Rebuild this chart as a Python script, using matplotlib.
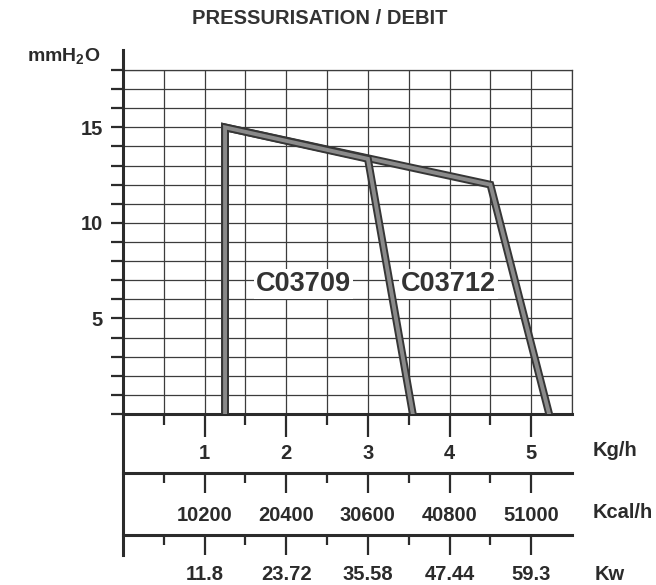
import matplotlib
matplotlib.use("Agg")
import matplotlib.pyplot as plt
import matplotlib.patheffects as pe
from matplotlib.lines import Line2D
from matplotlib.ticker import FixedLocator

plt.rcParams["font.family"] = ["Liberation Sans", "DejaVu Sans"]
plt.rcParams["font.weight"] = "bold"
plt.rcParams["mathtext.fontset"] = "custom"
plt.rcParams["mathtext.bf"] = "Liberation Sans:bold"
plt.rcParams["mathtext.rm"] = "Liberation Sans:bold"

# data (flow in kg/h, pressure in mmH2O)
c03709_x = [1.25, 1.25, 3.0, 3.55]
c03709_y = [0, 15, 13.35, 0]
c03712_x = [1.25, 1.25, 4.5, 5.22]
c03712_y = [0, 15, 12.0, 0]

kg_ticks = [1, 2, 3, 4, 5]
half_ticks = [0.5, 1.5, 2.5, 3.5, 4.5]
kg_labels = ["1", "2", "3", "4", "5"]
kcal_labels = ["10200", "20400", "30600", "40800", "51000"]
kw_labels = ["11.8", "23.72", "35.58", "47.44", "59.3"]
y_labeled = [5, 10, 15]

ink = "#2b2b2b"
W, H = 656, 585

fig = plt.figure(figsize=(6.56, 5.85), dpi=100)
ax = fig.add_axes([123 / W, 1 - 414 / H, (572 - 123) / W, (414 - 70) / H])
ax.set_xlim(0, 5.5)
ax.set_ylim(0, 18)

# grid
ax.xaxis.set_minor_locator(FixedLocator(half_ticks + [5.5]))
ax.grid(which="both", axis="x", color="#3c3c3c", lw=0.9)
ax.grid(which="major", axis="y", color="#3c3c3c", lw=0.9)
ax.set_axisbelow(True)

# curves
fx = [pe.Stroke(linewidth=5.6, foreground="#363636"), pe.Stroke(linewidth=2.8, foreground="#8a8a8a")]
ax.plot(c03712_x, c03712_y, color="#666", lw=4, solid_joinstyle="miter", path_effects=fx, zorder=3)
ax.plot(c03709_x, c03709_y, color="#666", lw=4, solid_joinstyle="miter", path_effects=fx, zorder=3)

box = dict(facecolor="white", edgecolor="none", pad=1.5)
ax.text(2.21, 6.8, "C03709", fontsize=19.5, fontweight="bold", color="#333",
        ha="center", va="center", bbox=box, zorder=4)
ax.text(3.99, 6.8, "C03712", fontsize=19.5, fontweight="bold", color="#333",
        ha="center", va="center", bbox=box, zorder=4)

# spines
for s in ["top", "right"]:
    ax.spines[s].set_linewidth(0.9)
    ax.spines[s].set_color("#3c3c3c")
ax.spines["bottom"].set_linewidth(2.2)
ax.spines["bottom"].set_color(ink)
ax.spines["left"].set_visible(False)
fig.add_artist(Line2D([123 / W, 123 / W], [1 - 555 / H, 1 - 50 / H],
                      transform=fig.transFigure, color=ink, lw=2.2))

# y axis
ax.set_yticks(range(0, 19))
ax.set_yticklabels([str(v) if v in y_labeled else "" for v in range(0, 19)])
ax.tick_params(axis="y", direction="out", length=9, width=1.6, pad=5.5,
               labelsize=14.5, colors=ink)

# kg/h axis
ax.set_xticks(kg_ticks)
ax.set_xticklabels(kg_labels)
ax.tick_params(axis="x", which="major", direction="out", length=16.5, width=1.6,
               pad=5, labelsize=14.5, colors=ink)
ax.tick_params(axis="x", which="minor", direction="out", length=8, width=1.6, colors=ink)
# no tick mark at the right edge, only the grid line
ax.xaxis.get_minor_ticks()[-1].tick1line.set_visible(False)

# kcal/h and kW axes
for loc, labels, pad in [(-59 / 344, kcal_labels, 9), (-121 / 344, kw_labels, 7)]:
    sec = ax.secondary_xaxis(loc)
    sec.set_xticks(kg_ticks)
    sec.set_xticklabels(labels)
    sec.xaxis.set_minor_locator(FixedLocator(half_ticks))
    sec.spines["bottom"].set_linewidth(2.2)
    sec.spines["bottom"].set_color(ink)
    sec.tick_params(axis="x", which="major", direction="out", length=14.5, width=1.6,
                    pad=pad, labelsize=14.5, colors=ink)
    sec.tick_params(axis="x", which="minor", direction="out", length=7, width=1.6, colors=ink)

# texts
fig.text(320 / W, 1 - 18 / H, "PRESSURISATION / DEBIT", fontsize=14.5, fontweight="bold",
         color="#333", ha="center", va="center")
fig.text(100 / W, 1 - 57 / H, r"mmH$_\mathbf{2}$O", fontsize=14, fontweight="bold",
         color=ink, ha="right", va="center")
fig.text(593 / W, 1 - 451 / H, "Kg/h", fontsize=14.5, fontweight="bold", color=ink, va="center")
fig.text(593 / W, 1 - 513 / H, "Kcal/h", fontsize=14.5, fontweight="bold", color=ink, va="center")
fig.text(595 / W, 1 - 574 / H, "Kw", fontsize=14.5, fontweight="bold", color=ink, va="center")

fig.savefig("out.png", dpi=100, facecolor="white")
